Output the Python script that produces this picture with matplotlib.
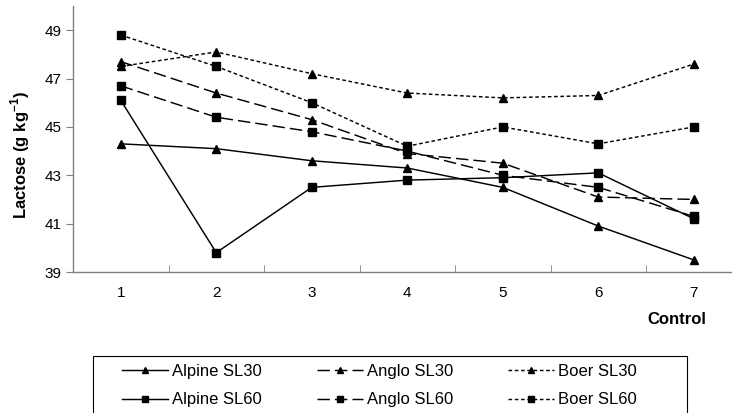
import matplotlib.pyplot as plt
from matplotlib.patches import Rectangle

plt.rcParams['font.family'] = ['Liberation Sans', 'DejaVu Sans']

x = [1, 2, 3, 4, 5, 6, 7]
alpine_sl30 = [44.3, 44.1, 43.6, 43.3, 42.5, 40.9, 39.5]
alpine_sl60 = [46.1, 39.8, 42.5, 42.8, 42.9, 43.1, 41.2]
anglo_sl30 = [47.7, 46.4, 45.3, 43.9, 43.5, 42.1, 42.0]
anglo_sl60 = [46.7, 45.4, 44.8, 44.0, 43.0, 42.5, 41.3]
boer_sl30 = [47.5, 48.1, 47.2, 46.4, 46.2, 46.3, 47.6]
boer_sl60 = [48.8, 47.5, 46.0, 44.2, 45.0, 44.3, 45.0]

W, H = 732, 413
fig = plt.figure(figsize=(W / 100, H / 100), dpi=100)
ax = fig.add_axes([73 / W, 1 - 272 / H, 1 - 73 / W, (272 - 6) / H])

solid = dict(linestyle='-')
long_dash = dict(linestyle=(0, (8.5, 3.5)))
short_dash = dict(linestyle=(0, (2.5, 1.8)))

series = [
    (alpine_sl30, 'Alpine SL30', '^', solid),
    (alpine_sl60, 'Alpine SL60', 's', solid),
    (anglo_sl30, 'Anglo SL30', '^', long_dash),
    (anglo_sl60, 'Anglo SL60', 's', long_dash),
    (boer_sl30, 'Boer SL30', '^', short_dash),
    (boer_sl60, 'Boer SL60', 's', short_dash),
]
for vals, name, mk, ls in series:
    ax.plot(x, vals, color='black', lw=1.05, marker=mk, markersize=6,
            label=name, clip_on=False, **ls)

ax.set_xlim(0.5, 7.4)
ax.set_ylim(39, 50)
ax.set_yticks([39, 41, 43, 45, 47, 49])
ax.set_xticks(x)
ax.set_xticks([i + 0.5 for i in range(7)], minor=True)
ax.tick_params(axis='x', which='major', length=0, pad=10, labelsize=11)
ax.tick_params(axis='x', which='minor', length=5, color='#808080', direction='in')
ax.tick_params(axis='y', length=5, color='#808080', direction='out', labelsize=11, pad=3)

for s in ['top', 'right']:
    ax.spines[s].set_visible(False)
for s in ['left', 'bottom']:
    ax.spines[s].set_color('#808080')
    ax.spines[s].set_linewidth(1)

fig.text(20 / W, 1 - 155 / H, 'Lactose (g kg$^{\\mathregular{-1}}$)', fontsize=12,
         fontweight='bold', rotation=90, ha='center', va='center')

fig.text(677 / W, 1 - 320 / H, 'Control', fontsize=12, fontweight='bold',
         ha='center', va='center')

# legend box (runs off the bottom edge like the original)
fig.patches.append(Rectangle((93 / W, -0.1), (687 - 93) / W, 0.1 + (1 - 356 / H),
                             transform=fig.transFigure, fill=False,
                             edgecolor='black', lw=0.8))

leg = fig.legend(loc='upper left', bbox_to_anchor=(122 / W, 1 - 364 / H),
                 ncol=3, fontsize=12, frameon=False, handlelength=2.75,
                 handletextpad=0.25, markerscale=0.7, borderpad=0,
                 borderaxespad=0, labelspacing=0.8, columnspacing=3.3)

fig.savefig('out.png', dpi=100)
